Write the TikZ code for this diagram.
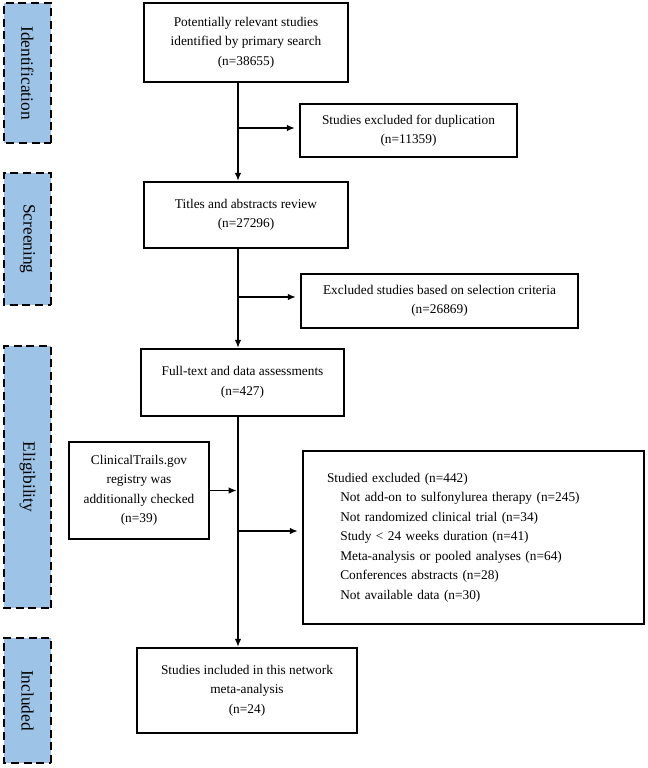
\documentclass[tikz,border=0pt]{standalone}
\usepackage{fontspec}
\setmainfont{Liberation Serif}
\usetikzlibrary{arrows.meta}
\definecolor{stageblue}{RGB}{157,195,230}

\tikzset{
  stagebox/.style={draw, line width=1.5pt, dash pattern=on 6pt off 3.5pt, fill=stageblue, rotate=-90, minimum height=35.25pt, inner sep=0pt, font=\fontsize{13pt}{15pt}\selectfont},
  flowbox/.style={draw, line width=1.7pt, align=center, inner sep=2pt, font=\fontsize{10pt}{14.6pt}\selectfont},
  flowline/.style={line width=1.2pt, -{Latex[length=6pt,width=5pt]}},
}

\begin{document}
\begin{tikzpicture}[x=0.75pt,y=0.75pt,yscale=-1,xscale=1]
\useasboundingbox (0,0) rectangle (647,768);

%Shape: Stage bars
\node[stagebox, minimum width=105pt] (ident) at (27.5,73) {Identification};
\node[stagebox, minimum width=99pt] (screen) at (27.5,239) {Screening};
\node[stagebox, minimum width=196.5pt] (elig) at (27.5,477) {Eligibility};
\node[stagebox, minimum width=93.75pt] (incl) at (27.5,700.5) {Included};

%Shape: Rectangle main column
\node[flowbox, minimum width=153pt, minimum height=59.25pt] (search) at (246,42.5) {Potentially relevant studies\\identified by primary search\\(n=38655)};
\node[flowbox, minimum width=153pt, minimum height=49.5pt] (titles) at (246,215) {Titles and abstracts review\\(n=27296)};
\node[flowbox, minimum width=152.25pt, minimum height=50.25pt] (fulltext) at (242.5,382.5) {Full-text and data assessments\\(n=427)};
\node[flowbox, minimum width=165pt, minimum height=63.75pt] (included) at (247,690.5) {Studies included in this network\\meta-analysis\\(n=24)};

%Shape: Rectangle side boxes
\node[flowbox, minimum width=162.75pt, minimum height=39.75pt] (dup) at (408.5,130.5) {Studies excluded for duplication\\(n=11359)};
\node[flowbox, minimum width=207.75pt, minimum height=40.5pt] (criteria) at (439.5,301) {Excluded studies based on selection criteria\\(n=26869)};
\node[flowbox, minimum width=105pt, minimum height=72.75pt] (registry) at (139,490.5) {ClinicalTrails.gov\\registry was\\additionally checked\\(n=39)};
\node[flowbox, align=left, text width=219.75pt, inner xsep=18pt, minimum height=129.75pt] (reasons) at (473.5,537.5) {Studied excluded (n=442)\\
\hspace*{10pt}Not add-on to sulfonylurea therapy (n=245)\\
\hspace*{10pt}Not randomized clinical trial (n=34)\\
\hspace*{10pt}Study < 24 weeks duration (n=41)\\
\hspace*{10pt}Meta-analysis or pooled analyses (n=64)\\
\hspace*{10pt}Conferences abstracts (n=28)\\
\hspace*{10pt}Not available data (n=30)};

%Straight Lines: spine and branches
\coordinate (b1) at (238,128);
\coordinate (b2) at (238,297);
\coordinate (b3) at (238,531);
\draw[flowline] (search.south -| b1) -- (titles.north -| b1);
\draw[flowline, shorten >=3pt] (b1) -- (dup.west |- b1);
\draw[flowline] (titles.south -| b2) -- (fulltext.north -| b2);
\draw[flowline, shorten >=3pt] (b2) -- (criteria.west |- b2);
\draw[flowline] (fulltext.south -| b3) -- (included.north -| b3);
\draw[flowline, shorten >=3pt] (b3) -- (reasons.west |- b3);
\draw[flowline, shorten >=1pt] (registry.east) -- (registry.east -| b3);

\end{tikzpicture}
\end{document}
